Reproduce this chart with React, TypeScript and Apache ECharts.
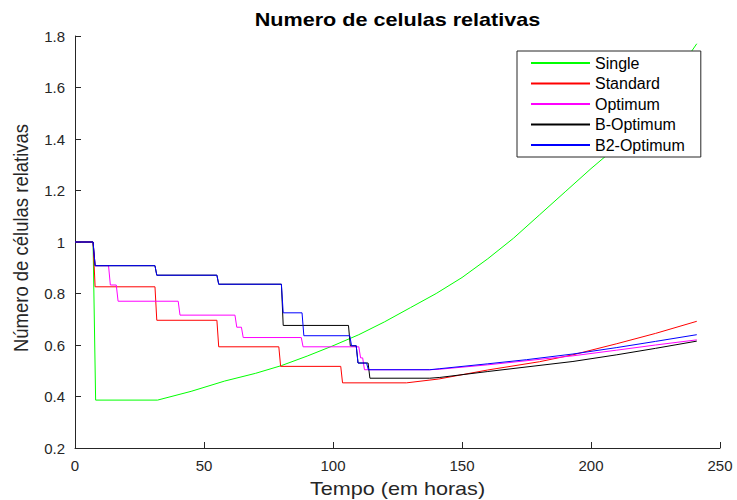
import React, { useEffect, useRef } from "react";
import * as echarts from "echarts";

const seriesNames = ["Single", "Standard", "Optimum", "B-Optimum", "B2-Optimum"];
const seriesColors = ["#00ff00", "#ff0000", "#ff00ff", "#000000", "#0000ff"];

const titleText = "Numero de celulas relativas";
const xAxisTitle = "Tempo (em horas)";
const yAxisTitle = "Número de células relativas";

const xMin = 0;
const xMax = 250;
const xStep = 50;
const yMin = 0.2;
const yMax = 1.8;
const yStep = 0.2;

const singleData: number[][] = [
  [0, 1], [7, 1], [8, 0.386], [32, 0.386], [45, 0.42], [58, 0.46], [70, 0.49],
  [80, 0.52], [90, 0.557], [100, 0.597], [110, 0.64], [120, 0.69], [130, 0.745],
  [140, 0.8], [150, 0.862], [160, 0.935], [170, 1.015], [180, 1.105], [190, 1.195],
  [200, 1.285], [210, 1.37], [220, 1.48], [230, 1.61], [241, 1.77],
];

const standardData: number[][] = [
  [0, 1], [7, 1], [7.8, 0.826], [31, 0.826], [31.7, 0.696], [55, 0.696],
  [55.7, 0.593], [79, 0.593], [79.7, 0.517], [103, 0.517], [103.7, 0.453],
  [128.5, 0.453], [141, 0.468], [160, 0.503], [180, 0.535], [193, 0.562],
  [210, 0.605], [225, 0.645], [241, 0.692],
];

const optimumData: number[][] = [
  [0, 1], [7, 1], [7.8, 0.908], [13, 0.908], [13.7, 0.833], [16, 0.833],
  [16.7, 0.77], [40, 0.77], [40.7, 0.716], [62, 0.716], [62.7, 0.669],
  [64.5, 0.669], [65.2, 0.629], [87.7, 0.629], [88.4, 0.593], [110, 0.593],
  [110.7, 0.55], [111.5, 0.55], [112.2, 0.504], [137.5, 0.504], [141.4, 0.506],
  [160, 0.523], [193, 0.558], [210, 0.58], [225, 0.6], [241, 0.62],
];

const bOptimumData: number[][] = [
  [0, 1], [7, 1], [7.8, 0.908], [31, 0.908], [31.7, 0.871], [55, 0.871],
  [55.7, 0.836], [80, 0.836], [80.7, 0.676], [106, 0.676], [106.7, 0.597],
  [109, 0.597], [109.7, 0.53], [113.6, 0.53], [114.3, 0.471], [137.5, 0.471],
  [141.4, 0.474], [160, 0.497], [193, 0.536], [210, 0.562], [225, 0.587],
  [241, 0.615],
];

const b2OptimumData: number[][] = [
  [0, 1], [7, 1], [7.8, 0.908], [31, 0.908], [31.7, 0.871], [55, 0.871],
  [55.7, 0.836], [80, 0.836], [80.7, 0.725], [88, 0.725], [88.7, 0.636],
  [106.5, 0.636], [107.2, 0.597], [109, 0.597], [109.7, 0.53], [113, 0.53],
  [113.7, 0.504], [137.5, 0.504], [141.4, 0.508], [160, 0.527], [175, 0.543],
  [193, 0.565], [210, 0.59], [225, 0.614], [241, 0.64],
];

const allData = [singleData, standardData, optimumData, bOptimumData, b2OptimumData];

const FONT = "'Liberation Sans', Arial, Helvetica, sans-serif";
const AXIS_COLOR = "#262626";

export default function App() {
  const ref = useRef<HTMLDivElement>(null);

  useEffect(() => {
    if (!ref.current) return;
    const chart = echarts.init(ref.current, null, { renderer: "svg" });
    const gridLeft = 75;
    const gridRight = 17;
    const gridTop = 36;
    const gridBottom = 52;
    const plotCenterX = gridLeft + (737 - gridLeft - gridRight) / 2;

    chart.setOption({
      animation: false,
      backgroundColor: "#ffffff",
      textStyle: { fontFamily: FONT },
      grid: { left: gridLeft, right: gridRight, top: gridTop, bottom: gridBottom, containLabel: false },
      graphic: [
        {
          type: "text",
          x: plotCenterX,
          y: 20,
          scaleX: 1.2,
          style: {
            text: titleText,
            font: `bold 18px ${FONT}`,
            fill: "#000000",
            textAlign: "center",
            textVerticalAlign: "middle",
          },
        },
        {
          type: "text",
          x: plotCenterX,
          y: 489,
          scaleX: 1.2,
          style: {
            text: xAxisTitle,
            font: `18px ${FONT}`,
            fill: AXIS_COLOR,
            textAlign: "center",
            textVerticalAlign: "middle",
          },
        },
        {
          type: "text",
          x: 21,
          y: 238,
          rotation: Math.PI / 2,
          scaleY: 1.1,
          style: {
            text: yAxisTitle,
            font: `18.5px ${FONT}`,
            fill: AXIS_COLOR,
            textAlign: "center",
            textVerticalAlign: "middle",
          },
        },
      ],
      legend: {
        orient: "vertical",
        left: 517,
        top: 51,
        padding: [4, 16, 4, 13],
        itemWidth: 59,
        itemHeight: 14,
        itemGap: 4.5,
        backgroundColor: "#ffffff",
        borderColor: AXIS_COLOR,
        borderWidth: 1,
        borderRadius: 0,
        itemStyle: { color: "rgba(0,0,0,0)", borderWidth: 0, opacity: 0 },
        textStyle: { fontSize: 16, color: "#000000", fontFamily: FONT },
        data: seriesNames.map((n) => ({ name: n })),
      },
      xAxis: {
        type: "value",
        min: xMin,
        max: xMax,
        interval: xStep,
        axisLine: { show: true, onZero: false, lineStyle: { color: AXIS_COLOR, width: 1 } },
        axisTick: { show: true, inside: true, length: 6, lineStyle: { color: AXIS_COLOR } },
        axisLabel: { show: true, margin: 10, fontSize: 15, color: AXIS_COLOR, fontFamily: FONT },
        splitLine: { show: false },
      },
      yAxis: {
        type: "value",
        min: yMin,
        max: yMax,
        interval: yStep,
        axisLine: { show: true, onZero: false, lineStyle: { color: AXIS_COLOR, width: 1 } },
        axisTick: { show: true, inside: true, length: 6, lineStyle: { color: AXIS_COLOR } },
        axisLabel: {
          show: true,
          margin: 10,
          fontSize: 15,
          color: AXIS_COLOR,
          fontFamily: FONT,
          formatter: (v: number) => String(Math.round(v * 10) / 10),
        },
        splitLine: { show: false },
      },
      series: seriesNames.map((name, i) => ({
        name,
        type: "line",
        data: allData[i],
        symbol: "none",
        showSymbol: false,
        smooth: false,
        lineStyle: { color: seriesColors[i], width: 1 },
        itemStyle: { color: seriesColors[i] },
        emphasis: { disabled: true },
      })),
    });
    return () => chart.dispose();
  }, []);

  return (
    <div
      ref={ref}
      style={{ position: "absolute", left: 0, top: 0, width: 737, height: 500 }}
    />
  );
}
